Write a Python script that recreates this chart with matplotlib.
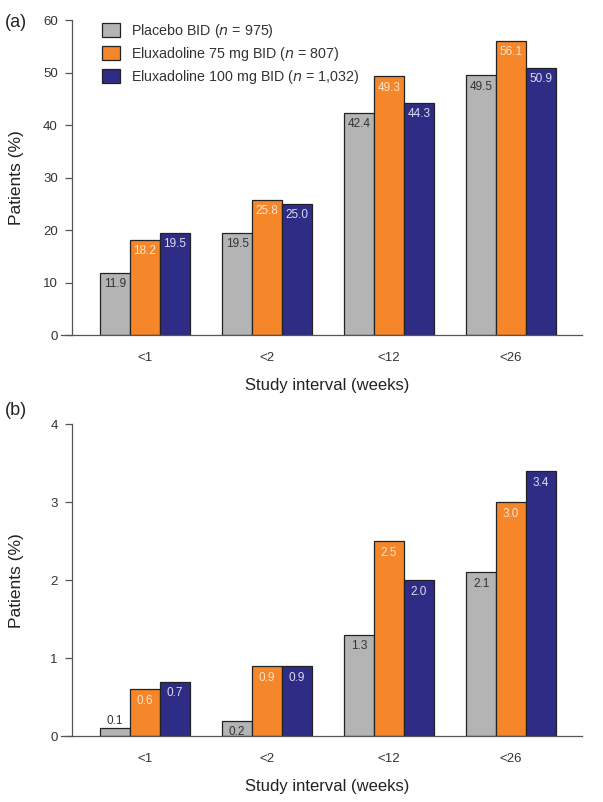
import matplotlib
matplotlib.use("Agg")
import matplotlib.pyplot as plt
import numpy as np

plt.rcParams['font.family'] = ['Liberation Sans', 'DejaVu Sans']

intervals = ['<1', '<2', '<12', '<26']
series = ['Placebo BID', 'Eluxadoline 75 mg BID', 'Eluxadoline 100 mg BID']
n_values = ['975', '807', '1,032']
colors = ['#b4b4b4', '#f5862a', '#2f2c85']
label_colors = ['#333333', '#fbe3cc', '#dcdcf0']

# panel (a)
vals_a = [
    [11.9, 19.5, 42.4, 49.5],
    [18.2, 25.8, 49.3, 56.1],
    [19.5, 25.0, 44.3, 50.9],
]
# panel (b)
vals_b = [
    [0.1, 0.2, 1.3, 2.1],
    [0.6, 0.9, 2.5, 3.0],
    [0.7, 0.9, 2.0, 3.4],
]

fig = plt.figure(figsize=(6.03, 8.02), dpi=100)
ax_a = fig.add_axes([0.119, 0.582, 0.846, 0.393])
ax_b = fig.add_axes([0.119, 0.082, 0.846, 0.389])

x = np.arange(len(intervals))
width = 0.245
xlo, xhi = -0.6, 3.58


def draw_panel(ax, vals, ymax, step, fmt, min_inside):
    handles = []
    for i, (v, c, lc) in enumerate(zip(vals, colors, label_colors)):
        pos = x + (i - 1) * width
        b = ax.bar(pos, v, width, color=c, edgecolor='#222222', linewidth=0.9, zorder=2)
        handles.append(b)
        for px, val in zip(pos, v):
            if val < min_inside:
                ax.annotate(fmt.format(val), (px, val), xytext=(0, 1),
                            textcoords='offset points', ha='center', va='bottom',
                            fontsize=8.5, color=lc)
            else:
                ax.annotate(fmt.format(val), (px, val), xytext=(0, -4),
                            textcoords='offset points', ha='center', va='top',
                            fontsize=8.5, color=lc)
    ax.set_xlim(xlo, xhi)
    ax.set_ylim(0, ymax)
    ax.set_yticks(np.arange(0, ymax + step / 2, step))
    ax.set_xticks(x)
    ax.set_xticklabels(intervals, fontsize=9.5, color='#333333')
    ax.tick_params(axis='x', length=0, pad=12)
    ax.tick_params(axis='y', length=5, width=0.9, color='#555555', labelsize=9.5,
                   labelcolor='#333333', direction='out', pad=5)
    for s in ['top', 'right']:
        ax.spines[s].set_visible(False)
    for s in ['left', 'bottom']:
        ax.spines[s].set_color('#555555')
        ax.spines[s].set_linewidth(0.9)
    ax.spines['bottom'].set_bounds(xlo - 0.09, xhi)
    ax.set_xlabel('Study interval (weeks)', fontsize=12, color='#222222', labelpad=10)
    ax.set_ylabel('Patients (%)', fontsize=12.5, color='#222222')
    ax.yaxis.set_label_coords(-0.093, 0.5)
    return handles


handles = draw_panel(ax_a, vals_a, 60, 10, '{:.1f}', 3)
draw_panel(ax_b, vals_b, 4, 1, '{:.1f}', 0.15)

labels = [f'{s} ($n$ = {n})' for s, n in zip(series, n_values)]
ax_a.legend(handles, labels, loc='upper left', bbox_to_anchor=(0.035, 1.035),
            frameon=False, fontsize=10.3, handlelength=1.2, handleheight=1.2,
            handletextpad=0.8, labelcolor='#333333', labelspacing=0.35)

fig.text(0.008, 0.972, '(a)', fontsize=13, color='#222222', va='center')
fig.text(0.008, 0.488, '(b)', fontsize=13, color='#222222', va='center')

fig.savefig('out.png', dpi=100)
